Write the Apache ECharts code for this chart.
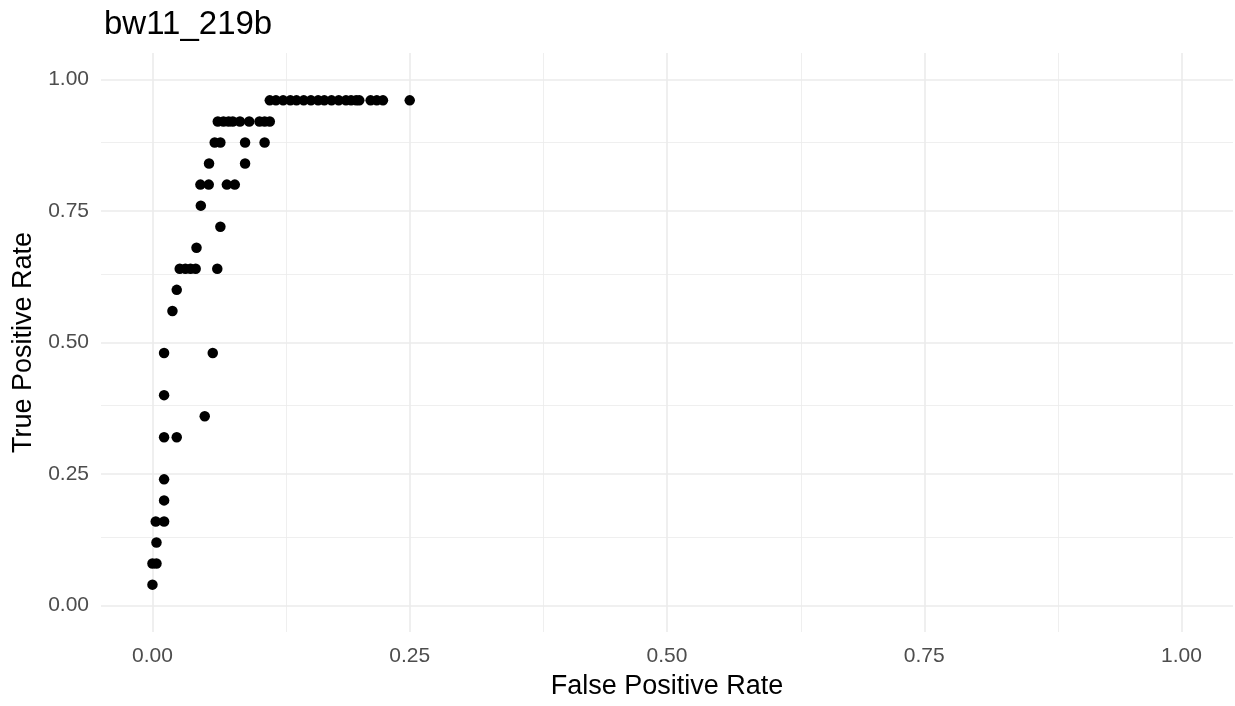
<!DOCTYPE html>
<html>
<head>
<meta charset="utf-8">
<script src="https://cdn.jsdelivr.net/npm/echarts@6/dist/echarts.min.js"></script>
<style>
html,body{margin:0;padding:0;background:#fff;}
#chart{width:1235px;height:706px;}
</style>
</head>
<body>
<div id="chart"></div>
<script>
const chartTitle = "bw11_219b";
const xTitle = "False Positive Rate";
const yTitle = "True Positive Rate";
const tickValues = [0, 0.25, 0.5, 0.75, 1];
const minorValues = [0.125, 0.375, 0.625, 0.875];

const fpr = [
  0.114, 0.120, 0.127, 0.134, 0.140, 0.147, 0.154, 0.161, 0.167, 0.174, 0.181, 0.188, 0.193, 0.198, 0.201, 0.212, 0.218, 0.224, 0.250,
  0.0635, 0.069, 0.074, 0.078, 0.085, 0.094, 0.104, 0.109, 0.114,
  0.0605, 0.066, 0.090, 0.109,
  0.055, 0.090,
  0.0466, 0.0547, 0.0723, 0.080,
  0.047,
  0.066,
  0.0428,
  0.0265, 0.032, 0.037, 0.042, 0.063,
  0.0236,
  0.0194,
  0.0113, 0.0586,
  0.0113,
  0.0508,
  0.0113, 0.0236,
  0.0113,
  0.0113,
  0.0032, 0.0113,
  0.0039,
  0.0, 0.0039,
  0.0
];
const tpr = [
  0.96, 0.96, 0.96, 0.96, 0.96, 0.96, 0.96, 0.96, 0.96, 0.96, 0.96, 0.96, 0.96, 0.96, 0.96, 0.96, 0.96, 0.96, 0.96,
  0.92, 0.92, 0.92, 0.92, 0.92, 0.92, 0.92, 0.92, 0.92,
  0.88, 0.88, 0.88, 0.88,
  0.84, 0.84,
  0.80, 0.80, 0.80, 0.80,
  0.76,
  0.72,
  0.68,
  0.64, 0.64, 0.64, 0.64, 0.64,
  0.60,
  0.56,
  0.48, 0.48,
  0.40,
  0.36,
  0.32, 0.32,
  0.24,
  0.20,
  0.16, 0.16,
  0.12,
  0.08, 0.08,
  0.04
];

const points = fpr.map((x, i) => [x, tpr[i]]);
const gridColor = '#EBEBEB';
const gridLines = [];
tickValues.forEach(v => {
  gridLines.push({xAxis: v, lineStyle: {color: gridColor, width: 1.6, type: 'solid'}});
  gridLines.push({yAxis: v, lineStyle: {color: gridColor, width: 1.6, type: 'solid'}});
});
minorValues.forEach(v => {
  gridLines.push({xAxis: v, lineStyle: {color: gridColor, width: 0.8, type: 'solid'}});
  gridLines.push({yAxis: v, lineStyle: {color: gridColor, width: 0.8, type: 'solid'}});
});

const chart = echarts.init(document.getElementById('chart'), null, {renderer: 'canvas'});
const font = 'Liberation Sans, Arial, sans-serif';
chart.setOption({
  backgroundColor: '#ffffff',
  animation: false,
  title: {
    text: chartTitle,
    left: 99,
    top: 3,
    textStyle: {fontFamily: font, fontSize: 33, fontWeight: 'normal', color: '#000'}
  },
  grid: {left: 101, right: 2, top: 53, bottom: 74, containLabel: false, outerBoundsMode: 'none'},
  xAxis: {
    type: 'value',
    min: -0.05, max: 1.05,
    name: xTitle,
    nameLocation: 'middle',
    nameGap: 41,
    nameTextStyle: {fontFamily: font, fontSize: 27, color: '#000'},
    axisLine: {show: false},
    axisTick: {show: false},
    splitLine: {show: false},
    axisLabel: {
      customValues: tickValues,
      formatter: v => v.toFixed(2),
      fontFamily: font, fontSize: 21, color: '#4D4D4D', margin: 14
    }
  },
  yAxis: {
    type: 'value',
    min: -0.05, max: 1.05,
    name: yTitle,
    nameLocation: 'middle',
    nameGap: 64,
    nameTextStyle: {fontFamily: font, fontSize: 27, color: '#000'},
    axisLine: {show: false},
    axisTick: {show: false},
    splitLine: {show: false},
    axisLabel: {
      customValues: tickValues,
      formatter: v => v.toFixed(2),
      fontFamily: font, fontSize: 21, color: '#4D4D4D', margin: 12
    }
  },
  series: [
    {
      type: 'scatter',
      data: [],
      silent: true,
      markLine: {
        silent: true,
        symbol: ['none', 'none'],
        label: {show: false},
        animation: false,
        data: gridLines
      },
      z: 1
    },
    {
      type: 'scatter',
      data: points,
      symbol: 'circle',
      symbolSize: 10.5,
      itemStyle: {color: '#000', opacity: 1},
      z: 5
    }
  ]
});
</script>
</body>
</html>
